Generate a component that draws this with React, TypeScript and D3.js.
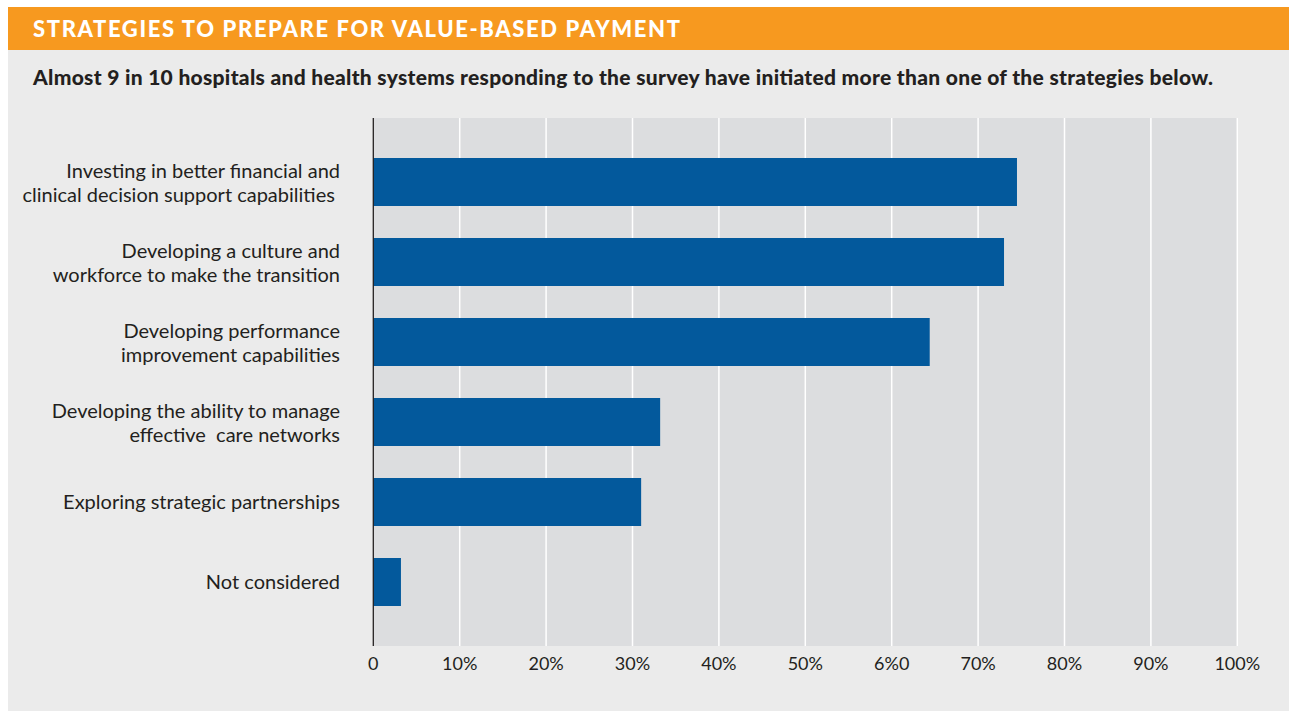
import React from "react";
import * as d3 from "d3";

const title = "STRATEGIES TO PREPARE FOR VALUE-BASED PAYMENT";
const subtitle =
  "Almost 9 in 10 hospitals and health systems responding to the survey have initiated more than one of the strategies below.";

const categories: string[][] = [
  ["Investing in better financial and", "clinical decision support capabilities "],
  ["Developing a culture and", "workforce to make the transition"],
  ["Developing performance", "improvement capabilities"],
  ["Developing the ability to manage", "effective  care networks"],
  ["Exploring strategic partnerships"],
  ["Not considered"],
];
const values: number[] = [74.5, 73.0, 64.4, 33.2, 31.0, 3.2];
const tickValues: number[] = [0, 10, 20, 30, 40, 50, 60, 70, 80, 90, 100];
const tickLabels: string[] = ["0", "10%", "20%", "30%", "40%", "50%", "6%0", "70%", "80%", "90%", "100%"];

const W = 1289;
const H = 711;
const plot = { left: 373.3, right: 1237.3, top: 118, bottom: 646 };

export default function App() {
  const x = d3.scaleLinear().domain([0, 100]).range([plot.left, plot.right]);
  const y = d3
    .scaleBand<number>()
    .domain(categories.map((_, i) => i))
    .range([plot.top, plot.bottom])
    .paddingInner(0.4)
    .paddingOuter(0.5);
  const textColor = "#231f20";
  const labelFont = "Lato, 'Noto Sans', sans-serif";
  return (
    <div style={{ position: "fixed", left: 0, top: 0, width: W, height: H, background: "#fff" }}>
      <svg width={W} height={H} style={{ display: "block" }}>
        <rect x={8} y={7} width={W - 8} height={43} fill="#f7991f" />
        <rect x={8} y={50} width={W - 8} height={H - 50} fill="#ebebeb" />
        <text
          x={33}
          y={37}
          fill="#ffffff"
          fontFamily={labelFont}
          fontWeight={900}
          fontSize={22}
          textLength={647}
          lengthAdjust="spacing"
        >
          {title}
        </text>
        <text
          x={33}
          y={85}
          fill={textColor}
          fontFamily={labelFont}
          fontWeight={900}
          fontSize={21}
          textLength={1180}
          lengthAdjust="spacing"
        >
          {subtitle}
        </text>
        <rect
          x={plot.left}
          y={plot.top}
          width={plot.right - plot.left}
          height={plot.bottom - plot.top}
          fill="#dcdddf"
        />
        {tickValues.slice(1).map((t) => (
          <line
            key={t}
            x1={x(t)}
            x2={x(t)}
            y1={plot.top}
            y2={plot.bottom}
            stroke="#ffffff"
            strokeWidth={1.5}
          />
        ))}
        {values.map((v, i) => (
          <rect
            key={i}
            x={x(0)}
            y={y(i)!}
            width={x(v) - x(0)}
            height={y.bandwidth()}
            fill="#03599c"
          />
        ))}
        <line
          x1={x(0)}
          x2={x(0)}
          y1={plot.top}
          y2={plot.bottom}
          stroke="#231f20"
          strokeWidth={1.3}
        />
        {categories.map((lines, i) => {
          const c = y(i)! + y.bandwidth() / 2;
          return lines.length === 1 ? (
            <text
              key={i}
              x={340}
              y={c + 7}
              textAnchor="end"
              fill={textColor}
              fontFamily={labelFont}
              fontSize={20}
              style={{ whiteSpace: "pre" }}
            >
              {lines[0]}
            </text>
          ) : (
            <text
              key={i}
              textAnchor="end"
              fill={textColor}
              fontFamily={labelFont}
              fontSize={20}
              style={{ whiteSpace: "pre" }}
            >
              <tspan x={340} y={c - 4}>
                {lines[0]}
              </tspan>
              <tspan x={340} y={c + 20}>
                {lines[1]}
              </tspan>
            </text>
          );
        })}
        {tickValues.map((t, i) => (
          <text
            key={t}
            x={x(t)}
            y={670}
            textAnchor="middle"
            fill={textColor}
            fontFamily={labelFont}
            fontSize={18}
          >
            {tickLabels[i]}
          </text>
        ))}
      </svg>
    </div>
  );
}
